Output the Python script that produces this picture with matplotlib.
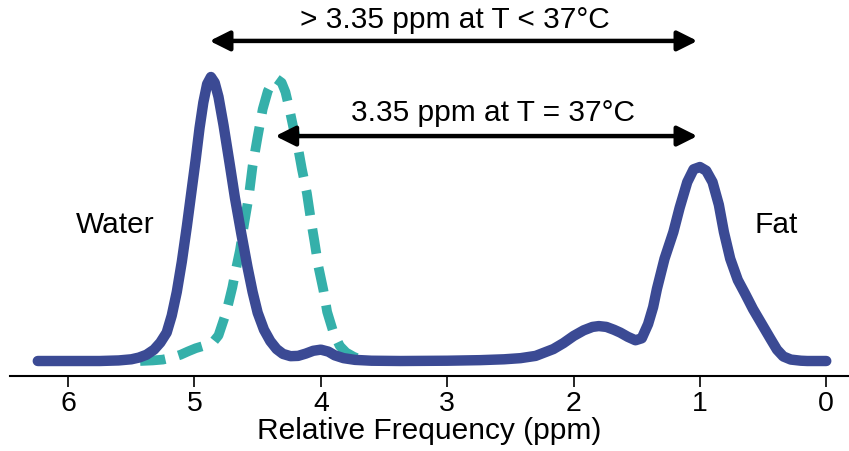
import numpy as np
import matplotlib.pyplot as plt

plt.rcParams['font.family'] = ['Liberation Sans', 'DejaVu Sans']

# solid curve (T = 37C), ppm vs relative amplitude
solid_ppm = [6.24, 5.75, 5.60, 5.50, 5.44, 5.38, 5.32, 5.27, 5.22, 5.18,
             5.14, 5.10, 5.06, 5.02, 4.99, 4.96, 4.93, 4.90, 4.87, 4.84,
             4.81, 4.77, 4.72, 4.68, 4.63, 4.58, 4.54, 4.50, 4.45, 4.40,
             4.35, 4.30, 4.24, 4.18, 4.12, 4.06, 4.00, 3.94, 3.89, 3.82,
             3.73, 3.60, 3.37, 3.00, 2.74, 2.55, 2.42, 2.30, 2.16, 2.08,
             2.00, 1.92, 1.85, 1.80, 1.74, 1.68, 1.63, 1.57, 1.51, 1.46,
             1.41, 1.37, 1.34, 1.28, 1.21, 1.16, 1.10, 1.05, 1.00, 0.95,
             0.90, 0.85, 0.81, 0.76, 0.70, 0.64, 0.58, 0.51, 0.44, 0.39,
             0.34, 0.28, 0.20, 0.15, 0.00]
solid_amp = [0.0, 0.0, 0.002, 0.006, 0.012, 0.022, 0.040, 0.065, 0.10, 0.16,
             0.243, 0.35, 0.475, 0.61, 0.711, 0.82, 0.91, 0.975, 1.0, 0.98,
             0.93, 0.83, 0.69, 0.575, 0.45, 0.33, 0.243, 0.17, 0.11, 0.07,
             0.042, 0.025, 0.017, 0.018, 0.026, 0.036, 0.04, 0.033, 0.02, 0.01,
             0.004, 0.001, 0.0, 0.001, 0.003, 0.006, 0.01, 0.018, 0.042, 0.063,
             0.088, 0.108, 0.12, 0.123, 0.12, 0.11, 0.10, 0.085, 0.073, 0.08,
             0.13, 0.19, 0.254, 0.36, 0.454, 0.54, 0.63, 0.675, 0.683, 0.67,
             0.63, 0.55, 0.454, 0.36, 0.285, 0.235, 0.183, 0.13, 0.077, 0.04,
             0.016, 0.005, 0.001, 0.0, 0.0]

# dashed curve (water at T < 37C)
dash_ppm = [5.43, 5.33, 5.25, 5.18, 5.11, 5.05, 4.99, 4.93, 4.89, 4.85,
            4.81, 4.78, 4.75, 4.73, 4.70, 4.68, 4.64, 4.61, 4.57, 4.54,
            4.50, 4.46, 4.42, 4.38, 4.35, 4.31, 4.28, 4.25, 4.22, 4.18,
            4.15, 4.11, 4.08, 4.05, 4.02, 3.98, 3.95, 3.90, 3.85, 3.80,
            3.74, 3.69, 3.65]
dash_amp = [0.0, 0.002, 0.005, 0.012, 0.022, 0.034, 0.045, 0.053, 0.059, 0.068,
            0.09, 0.13, 0.17, 0.205, 0.26, 0.306, 0.39, 0.475, 0.58, 0.687,
            0.79, 0.887, 0.95, 0.985, 0.993, 0.98, 0.947, 0.89, 0.827, 0.75,
            0.676, 0.59, 0.50, 0.42, 0.334, 0.25, 0.173, 0.10, 0.053, 0.03,
            0.015, 0.006, 0.0]

xticks = [6, 5, 4, 3, 2, 1, 0]

blue = '#3b4a94'
teal = '#35b0aa'

fig = plt.figure(figsize=(8.49, 4.52), dpi=100)
ax = fig.add_axes([10 / 849, 1 - 377 / 452, 1 - 10 / 849, 377 / 452])

ax.plot(dash_ppm, dash_amp, color=teal, lw=7, dashes=(2.6, 1.4), zorder=2)
ax.plot(solid_ppm, solid_amp, color=blue, lw=7.5,
        solid_capstyle='round', solid_joinstyle='round', zorder=3)

# arrows
arrow_kw = dict(arrowstyle='<|-|>,head_length=0.6,head_width=0.3',
                color='black', lw=3.2, mutation_scale=20,
                shrinkA=0, shrinkB=0)
ax.annotate('', xy=(1.02, 1.127), xytext=(4.88, 1.127), arrowprops=arrow_kw)
ax.annotate('', xy=(1.02, 0.792), xytext=(4.36, 0.792), arrowprops=arrow_kw)

ax.text(2.94, 1.204, '> 3.35 ppm at T < 37°C', fontsize=21.5,
        ha='center', va='center')
ax.text(2.64, 0.877, '3.35 ppm at T = 37°C', fontsize=21.5,
        ha='center', va='center')
ax.text(5.63, 0.482, 'Water', fontsize=21.5, ha='center', va='center')
ax.text(0.40, 0.482, 'Fat', fontsize=21.5, ha='center', va='center')

ax.set_xlim(6.46, -0.18)
ax.set_ylim(-0.0528, 1.2746)
ax.set_xticks(xticks)
ax.set_xticklabels([str(t) for t in xticks])
ax.tick_params(axis='x', labelsize=20.5, length=8, width=1.2, pad=2)
ax.set_yticks([])
for s in ['top', 'right', 'left']:
    ax.spines[s].set_visible(False)
ax.spines['bottom'].set_linewidth(1.5)
ax.set_xlabel('Relative Frequency (ppm)', fontsize=21.5, labelpad=0)

fig.savefig('out.png', dpi=100)
